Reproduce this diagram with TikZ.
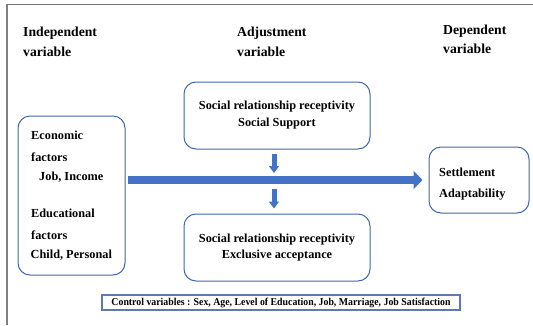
\documentclass[tikz,border=0pt]{standalone}
\usepackage{fontspec}
\setmainfont{Liberation Serif}
\usepackage{graphicx}
\usetikzlibrary{arrows.meta,calc}
\definecolor{boxblue}{RGB}{66,104,170}
\definecolor{arrowblue}{RGB}{68,114,196}
\definecolor{ctrlblue}{RGB}{95,120,175}
\tikzset{
  rbox/.style={draw=boxblue, line width=1pt, rounded corners=12pt, fill=white, inner sep=0pt},
  head/.style={font=\fontsize{13.7}{16}\selectfont\bfseries, anchor=base west, inner sep=0pt},
  body/.style={font=\fontsize{12.3}{17}\selectfont\bfseries, anchor=base west, inner sep=0pt},
  bigarrow/.style={draw=arrowblue, line width=8pt, -{Triangle[width=18pt,length=9pt]}},
  smallarrow/.style={draw=arrowblue, line width=5pt, -{Triangle[width=10pt,length=7pt]}},
}
\begin{document}
\begin{tikzpicture}[x=1pt,y=-1pt]
\useasboundingbox (0,0) rectangle (533,325);
% frame
\draw[draw=gray!90!black, line width=0.8pt] (6,4) -- (533,4);
\draw[draw=gray, line width=2pt] (7,3.6) -- (7,325);
% headings
\node[head] (h1a) at (23,36.3) {Independent};
\node[head] (h1b) at (23,56.3) {variable};
\node[head] (h2a) at (237,36.3) {Adjustment};
\node[head] (h2b) at (237,56.3) {variable};
\node[head] (h3a) at (443,34) {Dependent};
\node[head] (h3b) at (443,53) {variable};
% boxes
\node[rbox, minimum width=107pt, minimum height=159pt] (l) at (71.5,195.5) {};
\node[rbox, minimum width=186pt, minimum height=67pt, align=center,
      font=\fontsize{12.3}{17}\selectfont\bfseries] (top) at (277,115.5)
      {Social relationship receptivity\\Social Support};
\node[rbox, minimum width=186pt, minimum height=67pt, align=center,
      font=\fontsize{12.3}{16}\selectfont\bfseries] (bot) at (277,247.5)
      {Social relationship receptivity\\Exclusive acceptance};
\node[rbox, minimum width=100pt, minimum height=66pt] (r) at (479,180) {};
% left box text
\node[body] (e1) at (31,139.5) {Economic};
\node[body] (e2) at (31,161.8) {factors};
\node[body] (e3) at (39,180.8) {Job, Income};
\node[body] (e4) at (31,217) {Educational};
\node[body] (e5) at (31,239.8) {factors};
\node[body] (e6) at (30.5,258.5) {Child, Personal};
% right box text
\node[body] (s1) at (439,176.3) {Settlement};
\node[body] (s2) at (439,197.5) {Adaptability};
% arrows
\coordinate (m1) at (274,173);
\coordinate (m2) at (274,189);
\draw[bigarrow, shorten <=2pt, shorten >=6pt] (l.east |- r.west) -- (r.west);
\draw[smallarrow, shorten <=4pt] ([xshift=-3pt]top.south) -- (m1);
\draw[smallarrow, shorten >=5pt] (m2) -- ([xshift=-3pt]bot.north);
% control variables
\node[draw=ctrlblue, line width=1.2pt, minimum width=358pt, minimum height=15pt, inner sep=0pt] (c) at (281,302.5)
  {\resizebox{339pt}{\height}{\fontsize{10.5}{12}\selectfont\bfseries Control variables : Sex, Age, Level of Education, Job, Marriage, Job Satisfaction}};
\end{tikzpicture}
\end{document}
